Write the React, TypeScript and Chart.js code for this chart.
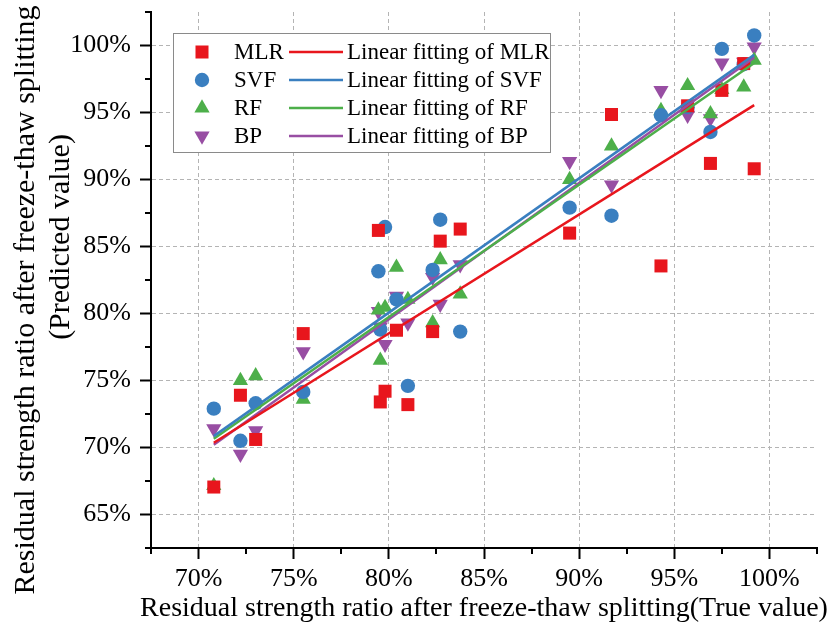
import React, { useEffect, useRef } from 'react';
import { Chart, registerables } from 'chart.js';

Chart.register(...registerables);

// ---- data (percent) ----
const trueValues = [70.8, 72.2, 73.0, 75.5, 79.45, 79.55, 79.8, 80.4, 81.0, 82.3, 82.7, 83.75, 89.5, 91.7, 94.3, 95.7, 96.9, 97.5, 98.65, 99.2];
const mlrPred = [67.05, 73.9, 70.6, 78.5, 86.2, 73.4, 74.2, 78.75, 73.2, 78.65, 85.4, 86.3, 86.0, 94.85, 83.55, 95.5, 91.2, 96.65, 98.65, 90.8];
const svfPred = [72.9, 70.5, 73.3, 74.15, 83.15, 78.8, 86.45, 81.05, 74.6, 83.25, 87.0, 78.65, 87.9, 87.3, 94.8, 95.4, 93.55, 99.75, 98.6, 100.75];
const rfPred = [67.15, 75.0, 75.35, 73.6, 80.25, 76.5, 80.45, 83.45, 81.05, 79.3, 84.0, 81.45, 90.0, 92.5, 95.15, 97.0, 94.9, 96.7, 96.9, 98.9];
const bpPred = [71.4, 69.5, 71.25, 77.15, 80.15, 79.0, 77.7, 81.3, 79.3, 82.7, 80.7, 83.65, 91.35, 89.6, 96.65, 94.8, 94.55, 98.7, 98.75, 99.9];

// linear fitting lines (end points)
const fitX = [70.8, 99.2];
const fitMLR = [70.35, 95.55];
const fitSVF = [70.85, 99.3];
const fitRF = [70.65, 98.7];
const fitBP = [70.2, 99.1];

const seriesNames = ['MLR', 'SVF', 'RF', 'BP'];
const fitNames = ['Linear fitting of MLR', 'Linear fitting of SVF', 'Linear fitting of RF', 'Linear fitting of BP'];

const xMajorTicks = [70, 75, 80, 85, 90, 95, 100];
const yMajorTicks = [65, 70, 75, 80, 85, 90, 95, 100];
const xMinorTicks = [67.5, 72.5, 77.5, 82.5, 87.5, 92.5, 97.5, 102.5];
const yMinorTicks = [62.5, 67.5, 72.5, 77.5, 82.5, 87.5, 92.5, 97.5, 102.5];

const xTitle = 'Residual strength ratio after freeze-thaw splitting(True value)';
const yTitleLines = ['Residual strength ratio after freeze-thaw splitting', '(Predicted value)'];

// ---- styles ----
const COLORS = ['#e8161d', '#3a7fc0', '#4daf4a', '#984ea3'];
const FONT = "'Liberation Serif', 'Times New Roman', serif";
const STYLES = [
  { pointStyle: 'rect', radius: 9.2, rotation: 0 },
  { pointStyle: 'circle', radius: 7.2, rotation: 0 },
  { pointStyle: 'triangle', radius: 8.8, rotation: 0 },
  { pointStyle: 'triangle', radius: 8.8, rotation: 180 },
];

function drawMarker(ctx: CanvasRenderingContext2D, idx: number, x: number, y: number) {
  const s = STYLES[idx];
  const r = s.radius;
  ctx.fillStyle = COLORS[idx];
  ctx.beginPath();
  if (s.pointStyle === 'rect') {
    const h = r * Math.SQRT1_2;
    ctx.rect(x - h, y - h, 2 * h, 2 * h);
  } else if (s.pointStyle === 'circle') {
    ctx.arc(x, y, r, 0, Math.PI * 2);
  } else {
    let rad = (s.rotation * Math.PI) / 180;
    ctx.moveTo(x + Math.sin(rad) * r, y - Math.cos(rad) * r);
    rad += (2 * Math.PI) / 3;
    ctx.lineTo(x + Math.sin(rad) * r, y - Math.cos(rad) * r);
    rad += (2 * Math.PI) / 3;
    ctx.lineTo(x + Math.sin(rad) * r, y - Math.cos(rad) * r);
    ctx.closePath();
  }
  ctx.fill();
}

const extrasPlugin = {
  id: 'extras',
  afterDraw(chart: any) {
    const ctx: CanvasRenderingContext2D = chart.ctx;
    const xs = chart.scales.x;
    const ys = chart.scales.y;
    const area = chart.chartArea;
    ctx.save();
    // minor ticks
    ctx.strokeStyle = '#000';
    ctx.lineWidth = 2;
    ctx.beginPath();
    xMinorTicks.forEach((v) => {
      const px = Math.round(xs.getPixelForValue(v));
      ctx.moveTo(px, area.bottom);
      ctx.lineTo(px, area.bottom + 6);
    });
    yMinorTicks.forEach((v) => {
      const py = Math.round(ys.getPixelForValue(v));
      ctx.moveTo(area.left, py);
      ctx.lineTo(area.left - 6, py);
    });
    ctx.stroke();

    // x title
    ctx.fillStyle = '#000';
    ctx.font = `28px ${FONT}`;
    ctx.textAlign = 'center';
    ctx.textBaseline = 'alphabetic';
    ctx.fillText(xTitle, 484, 616);

    // y title (two lines)
    ctx.font = `30px ${FONT}`;
    const ypos = [
      { x: 34, y: 300 },
      { x: 69, y: 237 },
    ];
    yTitleLines.forEach((line, i) => {
      ctx.save();
      ctx.translate(ypos[i].x, ypos[i].y);
      ctx.rotate(-Math.PI / 2);
      ctx.fillText(line, 0, 0);
      ctx.restore();
    });

    // legend box
    const bx = 173, by = 33, bw = 377, bh = 119;
    ctx.fillStyle = '#fff';
    ctx.fillRect(bx, by, bw, bh);
    ctx.strokeStyle = '#8a8a8a';
    ctx.lineWidth = 1;
    ctx.strokeRect(bx + 0.5, by + 0.5, bw, bh);
    const rows = [52, 80, 108, 136];
    ctx.font = `23px ${FONT}`;
    ctx.textAlign = 'left';
    ctx.textBaseline = 'middle';
    seriesNames.forEach((name, i) => {
      const ry = rows[i];
      drawMarker(ctx, i, 202, ry);
      ctx.fillStyle = '#000';
      ctx.fillText(name, 234, ry + 1);
      ctx.strokeStyle = COLORS[i];
      ctx.lineWidth = 2.5;
      ctx.beginPath();
      ctx.moveTo(289, ry);
      ctx.lineTo(343, ry);
      ctx.stroke();
      ctx.fillStyle = '#000';
      ctx.fillText(fitNames[i], 347, ry + 1);
    });
    ctx.restore();
  },
};

export default function App() {
  const ref = useRef<HTMLCanvasElement>(null);
  useEffect(() => {
    if (!ref.current) return;
    const preds = [mlrPred, svfPred, rfPred, bpPred];
    const fits = [fitMLR, fitSVF, fitRF, fitBP];
    const pointSets = preds.map((arr, i) => ({
      label: seriesNames[i],
      data: trueValues.map((x, k) => ({ x, y: arr[k] })),
      backgroundColor: COLORS[i],
      borderColor: COLORS[i],
      borderWidth: 0,
      pointStyle: STYLES[i].pointStyle,
      pointRadius: STYLES[i].radius,
      pointRotation: STYLES[i].rotation,
      showLine: false,
      order: 2,
    }));
    const lineSets = fits.map((arr, i) => ({
      label: fitNames[i],
      data: fitX.map((x, k) => ({ x, y: arr[k] })),
      borderColor: COLORS[i],
      backgroundColor: COLORS[i],
      borderWidth: 2.5,
      pointRadius: 0,
      showLine: true,
      order: 1,
    }));
    const tickFont = { family: FONT, size: 26 };
    const chart = new Chart(ref.current, {
      type: 'scatter',
      data: { datasets: [...pointSets, ...lineSets] as any },
      options: {
        animation: false,
        responsive: false,
        devicePixelRatio: 1,
        layout: { padding: { top: 12, right: 12, left: 0, bottom: 0 } },
        plugins: { legend: { display: false }, tooltip: { enabled: false } },
        scales: {
          x: {
            type: 'linear',
            min: 67.5,
            max: 102.5,
            afterBuildTicks: (s: any) => {
              s.ticks = xMajorTicks.map((v) => ({ value: v }));
            },
            afterFit: (s: any) => {
              s.height = 82;
              s.paddingLeft = 0;
              s.paddingRight = 0;
            },
            ticks: {
              font: tickFont,
              color: '#000',
              padding: 5,
              maxRotation: 0,
              autoSkip: false,
              callback: (v: any) => `${v}%`,
            },
            grid: {
              color: '#b4b4b4',
              lineWidth: 1,
              tickColor: '#000',
              tickLength: 11,
              tickWidth: 2,
            },
            border: { display: true, color: '#000', width: 2, dash: [4, 3] },
            title: { display: false },
          },
          y: {
            type: 'linear',
            min: 62.5,
            max: 102.5,
            afterBuildTicks: (s: any) => {
              s.ticks = yMajorTicks.map((v) => ({ value: v }));
            },
            afterFit: (s: any) => {
              s.width = 151;
              s.paddingTop = 0;
              s.paddingBottom = 0;
            },
            ticks: {
              font: tickFont,
              color: '#000',
              padding: 9,
              autoSkip: false,
              callback: (v: any) => `${v}%`,
            },
            grid: {
              color: '#b4b4b4',
              lineWidth: 1,
              tickColor: '#000',
              tickLength: 11,
              tickWidth: 2,
            },
            border: { display: true, color: '#000', width: 2, dash: [4, 3] },
            title: { display: false },
          },
        },
      },
      plugins: [extrasPlugin],
    } as any);
    return () => chart.destroy();
  }, []);

  return (
    <div style={{ position: 'fixed', left: 0, top: 0, width: 829, height: 630, background: '#fff' }}>
      <canvas ref={ref} width={829} height={630} style={{ display: 'block', width: 829, height: 630 }} />
    </div>
  );
}
